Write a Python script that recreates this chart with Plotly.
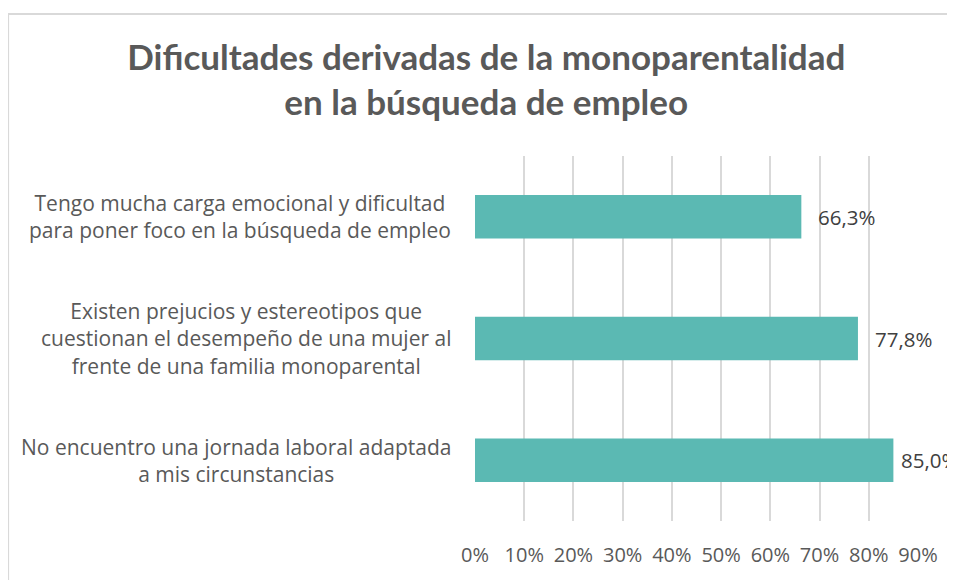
import plotly.graph_objects as go

# data
categories = [
    "Tengo mucha carga emocional y dificultad<br>para poner foco en la búsqueda de empleo",
    "Existen prejucios y estereotipos que<br>cuestionan el desempeño de una mujer al<br>frente de una familia monoparental",
    "No encuentro una jornada laboral adaptada<br>a mis circunstancias",
]
values = [0.663, 0.778, 0.850]
value_labels = ["66,3%", "77,8%", "85,0%"]
tick_vals = [0, 0.1, 0.2, 0.3, 0.4, 0.5, 0.6, 0.7, 0.8, 0.9]
tick_text = ["0%", "10%", "20%", "30%", "40%", "50%", "60%", "70%", "80%", "90%"]

BODY_FONT = "Open Sans"
TITLE_FONT = "Lato"
GREY = "#595959"

fig = go.Figure(go.Bar(
    x=values,
    y=categories,
    orientation="h",
    marker=dict(color="#5BB9B3", line=dict(width=0)),
    width=0.357,
))

# value labels, a bit away from the bar ends (Excel pulls the last one in)
for cat, v, lab in zip(categories, values, value_labels):
    shift = 6 if v > 0.84 else 15
    fig.add_annotation(
        x=v, y=cat, text=lab, showarrow=False, xanchor="left", xshift=shift,
        font=dict(family=BODY_FONT, size=20.5, color="#404040"),
    )

# category labels as centred multi-line annotations (Excel-style)
for cat in categories:
    fig.add_annotation(
        xref="paper", yref="y", x=-0.05, y=cat,
        text=cat, showarrow=False, xanchor="right", align="center",
        font=dict(family=BODY_FONT, size=21, color=GREY),
    )

# chart frame
fig.add_shape(type="rect", xref="paper", yref="paper",
              x0=-1.054, x1=1.3, y0=-0.3, y1=1.389,
              line=dict(color="#D9D9D9", width=2), layer="below")

# page body has an 8px margin, so the figure is sized/offset to compensate
fig.update_layout(
    width=947, height=572,
    margin=dict(l=467, r=37, t=148, b=54),
    paper_bgcolor="white", plot_bgcolor="white",
    showlegend=False,
    title=dict(
        text="Dificultades derivadas de la monoparentalidad<br>en la búsqueda de empleo",
        x=0.505, xanchor="center", y=0.892, yanchor="middle",
        font=dict(family=TITLE_FONT, size=35, color=GREY, weight="bold"),
    ),
    xaxis=dict(
        range=[0, 0.9], tickvals=tick_vals, ticktext=tick_text,
        showgrid=True, gridcolor="#D9D9D9", gridwidth=1.5,
        zeroline=False, showline=False,
        ticks="outside", ticklen=16, tickcolor="rgba(0,0,0,0)",
        tickfont=dict(family=BODY_FONT, size=20, color=GREY),
    ),
    yaxis=dict(
        autorange="reversed", showticklabels=False,
        showgrid=False, zeroline=False, showline=False,
    ),
)

fig.write_html("out.html")
